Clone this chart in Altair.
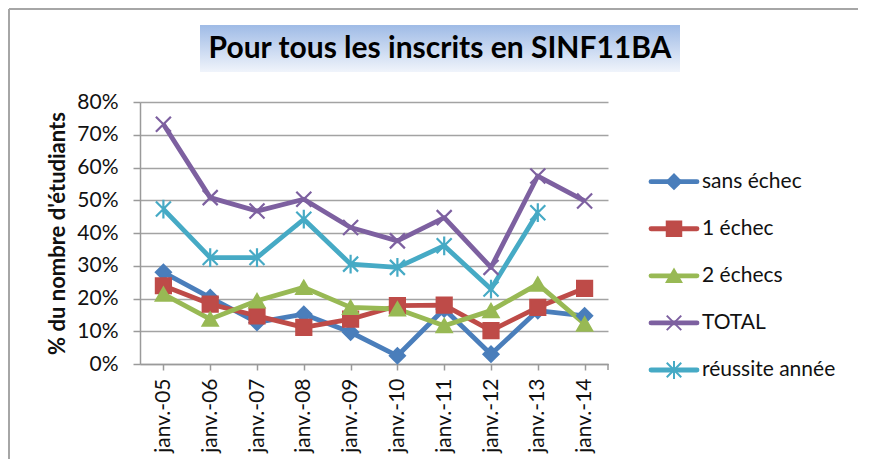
import altair as alt
import pandas as pd

title_text = "Pour tous les inscrits en SINF11BA"
y_title = "% du nombre d'étudiants"

years = ["janv.-05", "janv.-06", "janv.-07", "janv.-08", "janv.-09",
         "janv.-10", "janv.-11", "janv.-12", "janv.-13", "janv.-14"]
series = ["sans échec", "1 échec", "2 échecs", "TOTAL", "réussite année"]

sans_echec = [0.280, 0.203, 0.127, 0.152, 0.097, 0.025, 0.168, 0.030, 0.163, 0.147]
un_echec = [0.239, 0.183, 0.147, 0.112, 0.137, 0.178, 0.180, 0.102, 0.173, 0.231]
deux_echecs = [0.213, 0.137, 0.193, 0.234, 0.173, 0.168, 0.117, 0.163, 0.244, 0.122]
total = [0.732, 0.508, 0.467, 0.503, 0.417, 0.376, 0.447, 0.295, 0.574, 0.498]
reussite = [0.473, 0.325, 0.325, 0.442, 0.305, 0.295, 0.361, 0.229, 0.462, None]

y_ticks = [0.0, 0.1, 0.2, 0.3, 0.4, 0.5, 0.6, 0.7, 0.8]

colors = ["#4a7ebb", "#be4b48", "#98b954", "#7d60a0", "#46aac5"]
shapes = ["diamond", "square", "triangle-up",
          "M-1,-1L1,1M-1,1L1,-1",
          "M-1,-1L1,1M-1,1L1,-1M0,-1.25L0,1.25"]

values = [sans_echec, un_echec, deux_echecs, total, reussite]
rows = []
for s, vals in zip(series, values):
    for yr, v in zip(years, vals):
        rows.append({"annee": yr, "serie": s, "valeur": v})
df = pd.DataFrame(rows)

FONT = "Lato"
color_scale = alt.Scale(domain=series, range=colors)
shape_scale = alt.Scale(domain=series, range=shapes)

W, H = 468, 262

base = alt.Chart(df).encode(
    x=alt.X("annee:N", sort=years, title=None,
            scale=alt.Scale(paddingInner=0, paddingOuter=0),
            axis=alt.Axis(labelAngle=-90, labelFont=FONT, labelFontSize=21,
                          labelColor="#111111", labelPadding=8,
                          bandPosition=0,
                          domainColor="#9a9a9a", domainWidth=1.5,
                          tickColor="#9a9a9a", tickWidth=1.5, tickSize=6,
                          grid=False)),
    y=alt.Y("valeur:Q", title=y_title,
            scale=alt.Scale(domain=[0, 0.8], nice=False),
            axis=alt.Axis(values=y_ticks, format=".0%", labelFont=FONT,
                          labelFontSize=21, labelColor="#111111",
                          labelPadding=15, tickSize=7, tickColor="#9a9a9a",
                          tickWidth=1.5, domainColor="#9a9a9a", domainWidth=1.5,
                          gridColor="#a3a3a3", gridWidth=1.5,
                          titleFont=FONT, titleFontSize=22, titleFontWeight="bold",
                          titleColor="#111111", titleX=-83, titleY=H / 2,
                          titleAlign="center", titleBaseline="middle")),
)

lines = base.mark_line(strokeWidth=4.8, strokeJoin="round").encode(
    color=alt.Color("serie:N", scale=color_scale, legend=None),
    detail="serie:N",
)
points = base.mark_point(filled=True, size=225, strokeWidth=2.2, opacity=1).encode(
    shape=alt.Shape("serie:N", scale=shape_scale, legend=None),
    fill=alt.Fill("serie:N", scale=color_scale, legend=None),
    stroke=alt.Stroke("serie:N", scale=color_scale, legend=None),
)

deco = pd.DataFrame({"t": [title_text]})
title_box = alt.Chart(deco).mark_rect(
    fill=alt.Gradient(gradient="linear", x1=0, y1=0, x2=0, y2=1,
                      stops=[alt.GradientStop(color="#9fbbe6", offset=0),
                             alt.GradientStop(color="#f0f4fb", offset=1)])
).encode(x=alt.value(60), x2=alt.value(540), y=alt.value(-77), y2=alt.value(-30))
title_txt = alt.Chart(deco).mark_text(
    font=FONT, fontSize=30, fontWeight="bold", color="#000000",
    align="center", baseline="middle"
).encode(text="t:N", x=alt.value(300), y=alt.value(-53))
frame_top = alt.Chart(deco).mark_rule(color="#a6a6a6", strokeWidth=2).encode(
    x=alt.value(-131), x2=alt.value(718), y=alt.value(-93))
frame_left = alt.Chart(deco).mark_rule(color="#a6a6a6", strokeWidth=2).encode(
    x=alt.value(-131), y=alt.value(-93), y2=alt.value(357))
end_tick = alt.Chart(deco).mark_rule(color="#9a9a9a", strokeWidth=1.5).encode(
    x=alt.value(W), y=alt.value(H), y2=alt.value(H + 6))

main = alt.layer(frame_top, frame_left, title_box, title_txt, end_tick,
                 lines, points).properties(width=W, height=H)

leg_df = pd.DataFrame({"serie": series, "rang": list(range(len(series)))})
leg_base = alt.Chart(leg_df).encode(
    y=alt.Y("rang:Q", axis=None,
            scale=alt.Scale(domain=[-1.693, 3.873], reverse=True, nice=False, zero=False)))
leg_rule = leg_base.mark_rule(strokeWidth=4.8, strokeCap="round").encode(
    x=alt.value(1), x2=alt.value(47),
    color=alt.Color("serie:N", scale=color_scale, legend=None))
leg_pts = leg_base.mark_point(filled=True, size=210, strokeWidth=2, opacity=1).encode(
    x=alt.value(24),
    shape=alt.Shape("serie:N", scale=shape_scale, legend=None),
    fill=alt.Fill("serie:N", scale=color_scale, legend=None),
    stroke=alt.Stroke("serie:N", scale=color_scale, legend=None))
leg_txt = leg_base.mark_text(align="left", baseline="middle", font=FONT,
                             fontSize=21, color="#111111").encode(
    x=alt.value(52), text="serie:N")
legend = alt.layer(leg_rule, leg_pts, leg_txt).properties(width=150, height=H)

chart = alt.hconcat(main, legend, spacing=42, bounds="flush", padding=0).resolve_scale(
    x="independent", y="independent"
).configure_view(stroke=None)

chart.save("out.html", embed_options={"renderer": "svg", "actions": False})
